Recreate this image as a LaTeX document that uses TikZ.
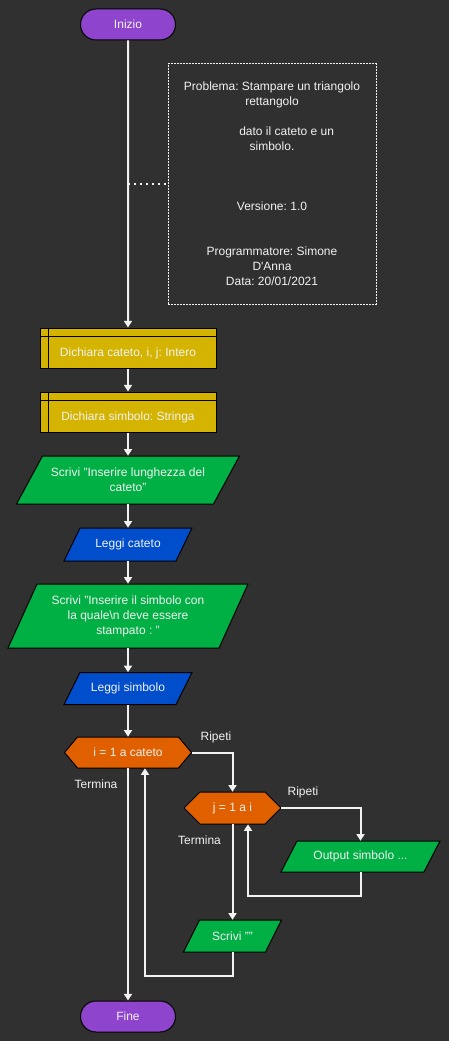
\documentclass[tikz,border=0pt]{standalone}
\usepackage{fontspec}
\setmainfont{Liberation Sans}
\usetikzlibrary{shapes.misc, arrows.meta, calc}
\frenchspacing

\definecolor{bgdark}{RGB}{48,48,48}
\definecolor{termfill}{RGB}{142,68,204}
\definecolor{declfill}{RGB}{212,180,0}
\definecolor{outfill}{RGB}{0,176,68}
\definecolor{infill}{RGB}{0,78,204}
\definecolor{loopfill}{RGB}{224,96,0}
\definecolor{inktext}{RGB}{242,242,242}

\newcommand{\boxfont}{\fontsize{9}{11.25}\selectfont}

\newcommand{\iobox}[8]{%
        \filldraw[fill=#7, draw=black, line width=0.75pt] ({#2-#4/2+#6/2},{#3-#5/2}) -- ++(#4,0) -- ++({-#6},#5) -- ++({-#4},0) -- cycle;
        \node[boxtext, minimum width=#4*0.75pt, minimum height=#5*0.75pt] (#1) at (#2,#3) {#8};}

\newcommand{\loopbox}[7]{%
        \filldraw[fill=loopfill, draw=black, line width=0.75pt] ({#2-#4/2},#3) -- ({#2-#4/2+#6},{#3-#5/2}) -- ({#2+#4/2-#6},{#3-#5/2}) -- ({#2+#4/2},#3) -- ({#2+#4/2-#6},{#3+#5/2}) -- ({#2-#4/2+#6},{#3+#5/2}) -- cycle;
        \node[boxtext, minimum width=#4*0.75pt, minimum height=#5*0.75pt] (#1) at (#2,#3) {#7};}

\tikzset{
  boxtext/.style={inner sep=0pt, text=inktext, font=\boxfont, align=center},
  terminal/.style={rounded rectangle, fill=termfill, draw=black, line width=0.75pt,
    minimum width=71.25pt, minimum height=23.25pt, inner sep=0pt, text=inktext, font=\boxfont},
  declbox/.style={rectangle, fill=declfill, draw=black, line width=0.75pt,
    minimum width=132pt, minimum height=30pt, inner sep=0pt, text=inktext, font=\boxfont,
    text height=12.5pt, text depth=0.5pt,
    path picture={
      \draw[black, line width=0.75pt] ([xshift=6pt]path picture bounding box.north west) -- ([xshift=6pt]path picture bounding box.south west);
      \draw[black, line width=0.75pt] ([yshift=-6pt]path picture bounding box.north west) -- ([yshift=-6pt]path picture bounding box.north east);
    }},
  note/.style={rectangle, draw=inktext, line width=0.75pt, dash pattern=on 1.5pt off 0.75pt,
    minimum width=156pt, minimum height=180pt, inner sep=0pt, text=inktext, font=\boxfont, align=center},
  lbl/.style={inner sep=0pt, text=inktext, font=\boxfont},
  flow/.style={draw=inktext, line width=1.5pt, -{Triangle[width=6pt,length=5pt]}},
  notelink/.style={draw=inktext, line width=1.5pt, dash pattern=on 1.5pt off 3pt}
}

\begin{document}
\begin{tikzpicture}[x=0.75pt, y=-0.75pt]
        \fill[bgdark] (0,0) rectangle (449,1041);
        \useasboundingbox (0,0) rectangle (449,1041);
        \coordinate (tap) at (128,184);
        \node[terminal] (inizio) at (128,24.5) {Inizio};
        \node[note] (nota) at (272,184) {Problema: Stampare un triangolo\\rettangolo\\[11.25pt]\hspace*{22pt}dato il cateto e un\\simbolo.\\[33.75pt]Versione: 1.0\\[22.5pt]Programmatore: Simone\\D\textquotesingle Anna\\Data: 20/01/2021};
        \node[declbox] (dichcat) at (128,348) {Dichiara cateto, i, j: Intero};
        \node[declbox] (dichsim) at (128,412) {Dichiara simbolo: Stringa};
        \iobox{scrlung}{128}{480}{197}{48}{26}{outfill}{Scrivi "Inserire lunghezza del\\cateto"}
        \iobox{legcat}{128}{544.5}{112}{33}{16}{infill}{Leggi cateto}
        \iobox{scrsim}{128}{616}{211}{64}{29}{outfill}{Scrivi "Inserire il simbolo con\\la quale\textbackslash n deve essere\\stampato : "}
        \iobox{legsim}{128}{688.5}{112}{32}{16}{infill}{Leggi simbolo}
        \loopbox{cicloi}{128}{752.5}{127}{31}{13}{i = 1 a cateto}
        \loopbox{cicloj}{232.5}{808}{97}{32}{16}{j = 1 a i}
        \iobox{outsim}{360.5}{856.5}{143}{31}{16}{outfill}{Output simbolo ...}
        \iobox{scrvuoto}{232.5}{936}{82}{32}{16}{outfill}{Scrivi ""}
        \node[terminal] (fine) at (128,1016.5) {Fine};
        \node[lbl] (ripi) at (216,737) {Ripeti};
        \node[lbl] (termi) at (96,784) {Termina};
        \node[lbl] (ripj) at (303,792) {Ripeti};
        \node[lbl] (termj) at (199.5,840) {Termina};
        \draw[flow] (inizio) -- (dichcat);
        \draw[notelink] (tap) -- (nota.west);
        \draw[flow] (dichcat) -- (dichsim);
        \draw[flow] (dichsim) -- (scrlung);
        \draw[flow] (scrlung) -- (legcat);
        \draw[flow] (legcat) -- (scrsim);
        \draw[flow] (scrsim) -- (legsim);
        \draw[flow] (legsim) -- (cicloi);
        \draw[flow] (cicloi.east) -| (cicloj.north);
        \draw[flow] (cicloj.east) -| (outsim.north);
        \draw[flow] (outsim.south) -- ++(0,23.5) -| ($(cicloj.south)+(15.5,0)$);
        \draw[flow] (cicloj) -- (scrvuoto);
        \draw[flow] (scrvuoto.south) -- ++(0,24) -| ($(cicloi.south)+(17,0)$);
        \draw[flow] (cicloi) -- (fine);
\end{tikzpicture}
\end{document}
